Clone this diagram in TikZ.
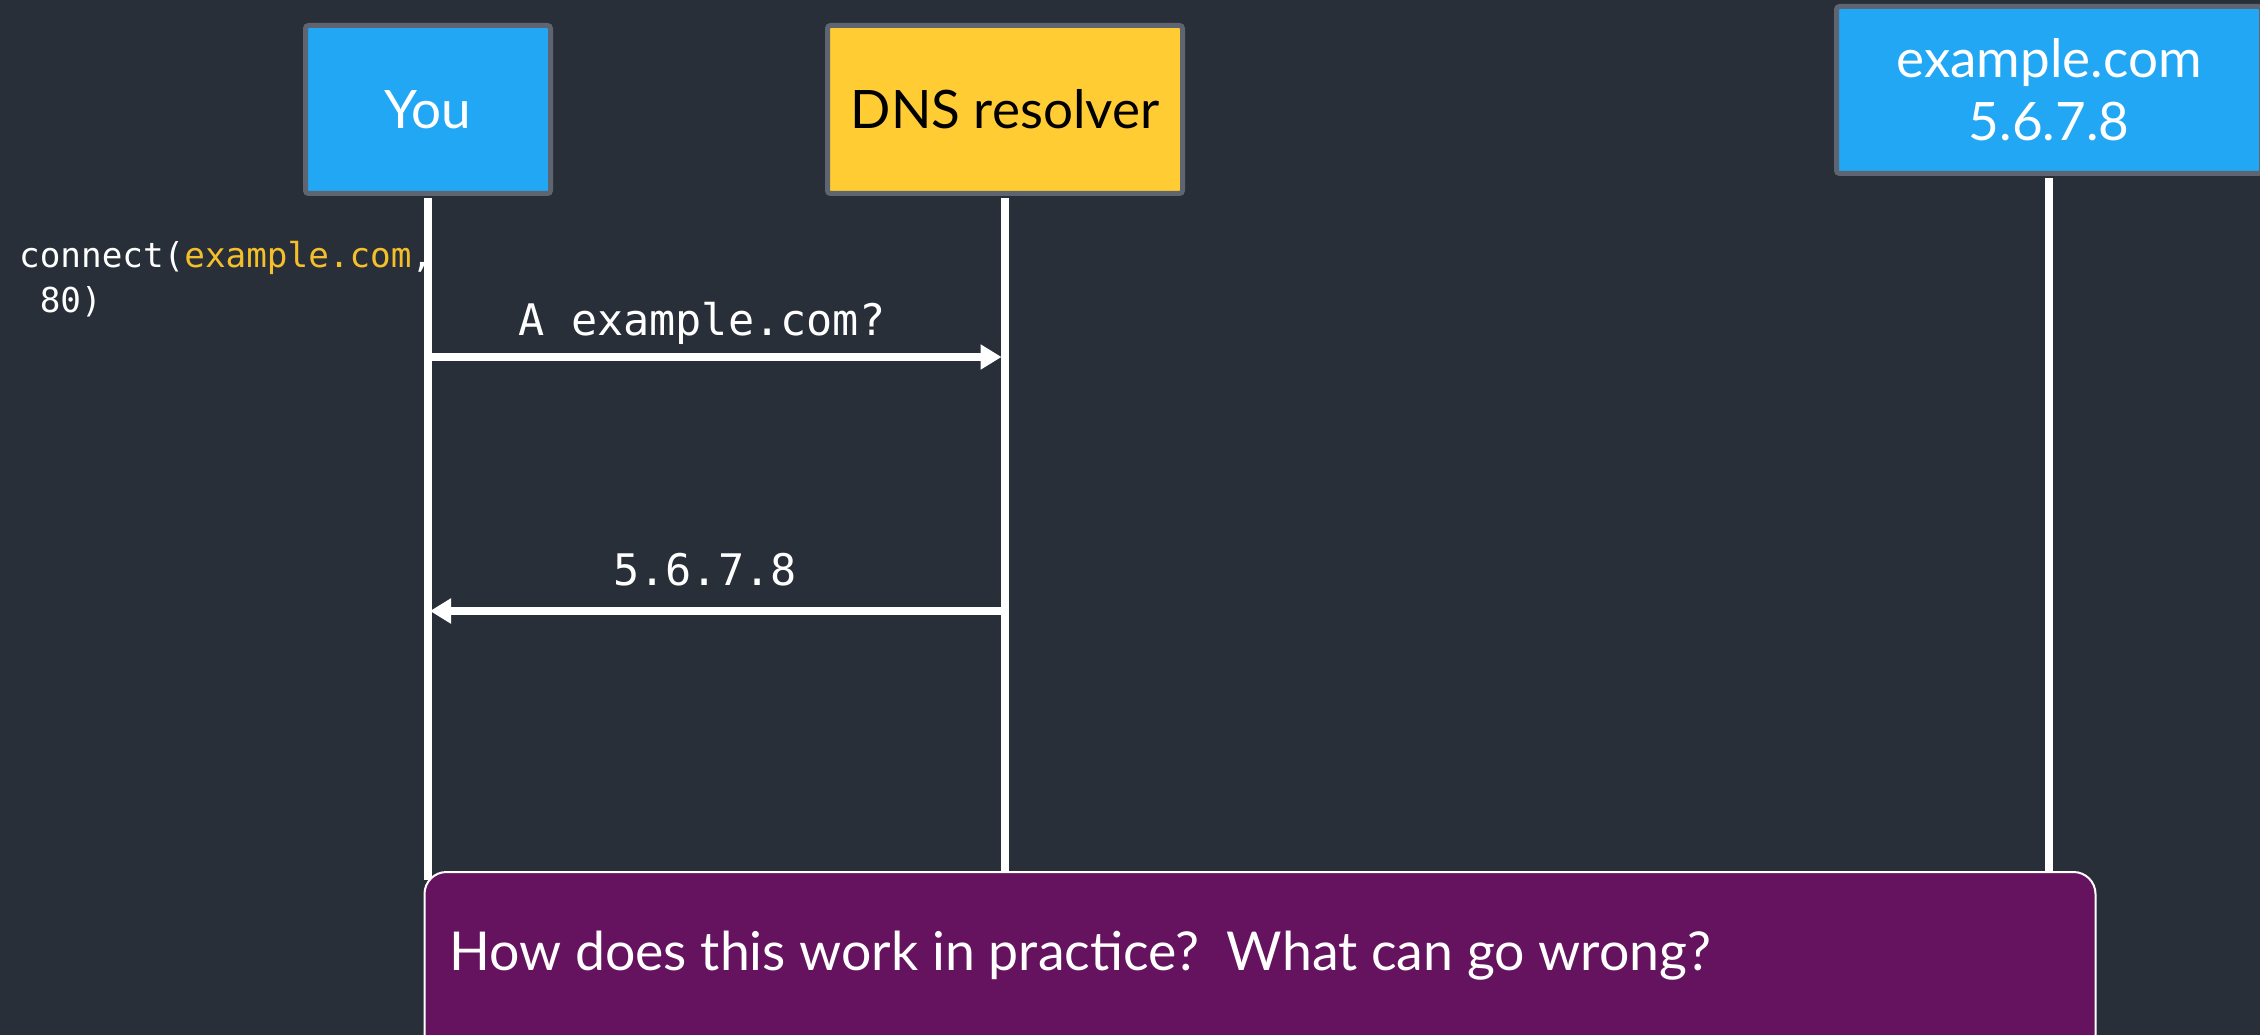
\documentclass[tikz,border=0pt]{standalone}
\usepackage{fontspec}
\setmainfont{Lato}
\newfontfamily\codefont{DejaVu Sans Mono}
\usetikzlibrary{arrows.meta}
\definecolor{bg}{HTML}{282F38}
\definecolor{youblue}{HTML}{22A7F5}
\definecolor{dnsyellow}{HTML}{FFCC33}
\definecolor{boxgray}{HTML}{5E6570}
\definecolor{qpurple}{HTML}{65135F}
\definecolor{codeyellow}{HTML}{F4BF2B}
\tikzset{
  actor/.style={draw=boxgray, line width=5pt, rounded corners=3pt, inner sep=0pt,
    font=\fontsize{53}{63}\selectfont, align=center},
  lifeline/.style={draw=white, line width=7.5pt},
  msg/.style={draw=white, line width=8pt, -{Triangle[length=21pt,width=24pt]}},
  msglabel/.style={text=white, inner sep=0pt, anchor=base, font=\codefont\fontsize{43.5}{52}\selectfont},
  codetext/.style={text=white, inner sep=0pt, anchor=base west, font=\codefont\fontsize{34.3}{45}\selectfont},
  qbox/.style={draw=white, line width=2pt, fill=qpurple, rounded corners=22pt, inner sep=0pt},
}
\begin{document}
\begin{tikzpicture}[x=1pt,y=-1pt]
\useasboundingbox (0,0) rectangle (2260,1035);
\fill[bg] (0,0) rectangle (2260,1035);

% code text (drawn first so the lifeline covers the comma)
\node[codetext] (c1) at (19,267) {connect(\textcolor{codeyellow}{example.com},};
\node[codetext] (c2) at (19,312) {\phantom{0}80)};

% actors
\node[actor, fill=youblue, text=white, minimum width=245pt, minimum height=168pt] (you) at (428,109.5) {You};
\node[actor, fill=dnsyellow, text=black, minimum width=355pt, minimum height=168pt] (dns) at (1005,109.5) {DNS resolver};
\node[actor, fill=youblue, text=white, minimum width=425pt, minimum height=167pt] (ex) at (2049,90) {example.com\\5.6.7.8};

% lifelines
\coordinate (bot) at (0,880);
\draw[lifeline] ([yshift=-2.5pt]you.south) -- (you.south |- bot);
\draw[lifeline] ([yshift=-2.5pt]dns.south) -- (dns.south |- bot);
\draw[lifeline] ([yshift=-2.5pt]ex.south) -- (ex.south |- bot);

% messages
\coordinate (m1) at (0,357);
\coordinate (m2) at (0,611);
\draw[msg, shorten <=4pt, shorten >=3.5pt] (you.south |- m1) -- (dns.south |- m1);
\draw[msg, shorten <=3.5pt, shorten >=2pt] (dns.south |- m2) -- (you.south |- m2);
\node[msglabel] (l1) at (702,335) {A example.com?};
\node[msglabel] (l2) at (705,585) {5.6.7.8};

% question box
\node[qbox, minimum width=1671pt, minimum height=240pt] (q) at (1260,992) {};
\node[text=white, inner sep=0pt, anchor=base west, font=\fontsize{53.6}{64}\selectfont] (qt) at (449,970) {How does this work in practice?\ \ What can go wrong?};
\end{tikzpicture}
\end{document}
